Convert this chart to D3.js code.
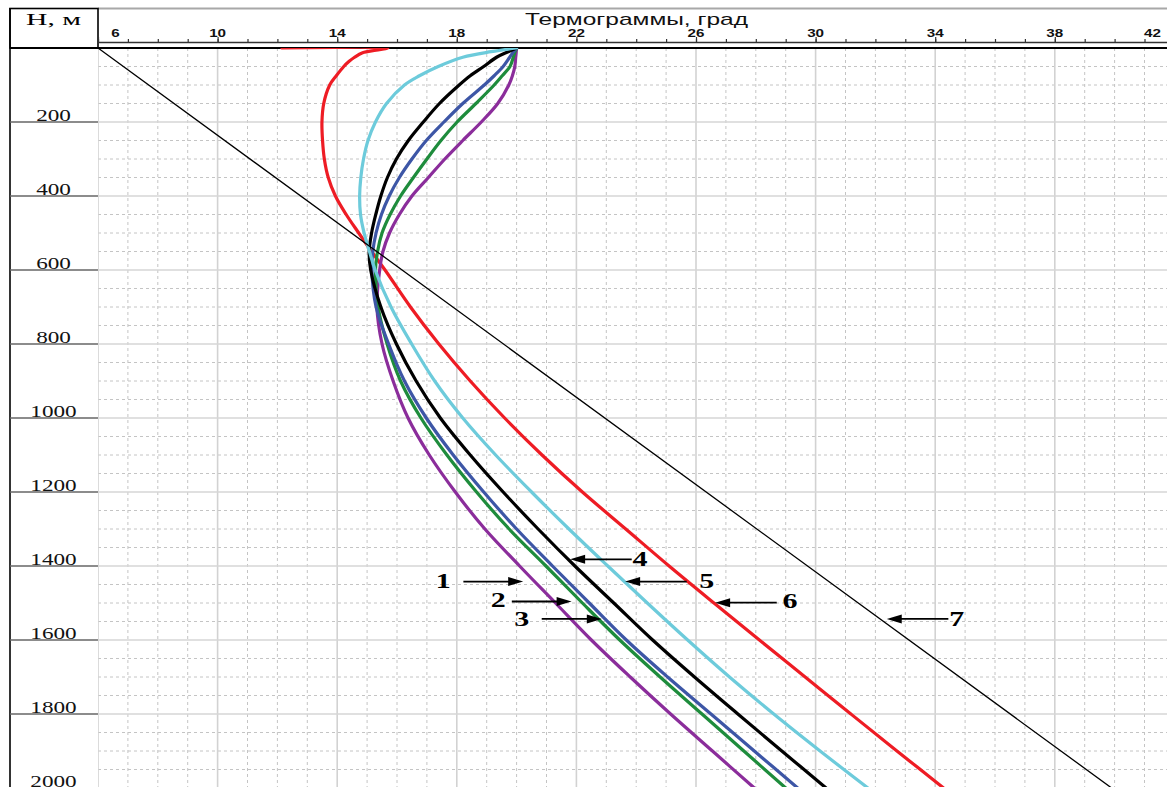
<!DOCTYPE html>
<html>
<head>
<meta charset="utf-8">
<script src="https://cdn.jsdelivr.net/npm/d3@7"></script>
<style>
  html, body { margin: 0; padding: 0; background: #fff; overflow: hidden; }
  svg { display: block; }
</style>
</head>
<body>
<svg id="chart"></svg>
<script>
// Depth stations of the thermograms, m
const depthM = [0, 10, 25, 50, 75, 100, 150, 200, 250, 300, 350, 400, 450, 500, 550, 600,
                700, 800, 900, 1000, 1100, 1200, 1300, 1400, 1500, 1600, 1700, 1800, 1900, 2000];

// Thermograms 1-5, °C at depthM
const thermo1 = [20.0, 19.99, 19.97, 19.94, 19.86, 19.74, 19.37, 18.82, 18.2, 17.6, 17.05, 16.5, 16.08, 15.75, 15.53, 15.42,
                 15.33, 15.5, 15.87, 16.37, 17.08, 17.95, 18.94, 20.1, 21.3, 22.5, 23.8, 25.15, 26.55, 27.95];
const thermo2 = [20.0, 19.95, 19.89, 19.78, 19.52, 19.25, 18.64, 18.01, 17.47, 17.0, 16.55, 16.12, 15.77, 15.5, 15.35, 15.28,
                 15.37, 15.67, 16.12, 16.8, 17.67, 18.66, 19.75, 20.98, 22.2, 23.45, 24.8, 26.2, 27.6, 29.0];
const thermo3 = [20.0, 19.9, 19.77, 19.55, 19.25, 18.92, 18.2, 17.57, 16.98, 16.5, 16.08, 15.74, 15.48, 15.3, 15.19, 15.16,
                 15.3, 15.72, 16.25, 16.98, 17.88, 18.9, 20.0, 21.2, 22.43, 23.67, 25.05, 26.5, 27.95, 29.4];
const thermo4 = [20.0, 19.72, 19.33, 18.9, 18.45, 18.08, 17.42, 16.88, 16.38, 15.98, 15.68, 15.46, 15.29, 15.15, 15.07, 15.12,
                 15.46, 15.98, 16.64, 17.45, 18.45, 19.55, 20.72, 21.95, 23.25, 24.55, 25.95, 27.4, 28.87, 30.35];
const thermo5 = [20.0, 19.15, 18.2, 17.38, 16.75, 16.25, 15.65, 15.28, 15.03, 14.88, 14.79, 14.75, 14.78, 14.9, 15.08, 15.27,
                 15.8, 16.49, 17.26, 18.2, 19.3, 20.5, 21.75, 23.05, 24.37, 25.72, 27.12, 28.6, 30.15, 31.75];

// Thermogram 6 starts with a surface segment, so it keeps its own depth list
const depthRed = [0, 0, 6, 13, 25, 36, 50, 75, 100, 150, 200, 250, 300, 350, 400, 450, 500, 550, 600,
                  700, 800, 900, 1000, 1100, 1200, 1300, 1400, 1500, 1600, 1700, 1800, 1900, 2000];
const thermo6 = [12.15, 15.69, 15.3, 14.85, 14.58, 14.4, 14.22, 13.97, 13.75, 13.55, 13.49, 13.51, 13.57, 13.7, 13.94, 14.3, 14.72, 15.15, 15.6,
                 16.45, 17.4, 18.45, 19.6, 20.85, 22.2, 23.65, 25.1, 26.6, 28.12, 29.65, 31.18, 32.72, 34.28];

// Line 7: geothermal gradient
const gradientT = [6, 39.9];
const gradientH = [0, 2000];

// Axis labels
const topTickLabels = [6, 10, 14, 18, 22, 26, 30, 34, 38, 42];
const depthTickLabels = [200, 400, 600, 800, 1000, 1200, 1400, 1600, 1800, 2000];

// Numbered call-outs: arrow tip, arrow tail and label, in (°C, m)
const calloutNames = ["1", "2", "3", "4", "5", "6", "7"];
const tipT   = [20.22, 21.84, 22.85, 21.79, 23.63, 26.64, 32.38];
const tipH   = [1442, 1496, 1543, 1382, 1442, 1499, 1543];
const tailT  = [18.22, 19.84, 20.84, 23.85, 25.69, 28.70, 34.44];
const labelT = [17.55, 19.39, 20.17, 24.13, 26.36, 29.14, 34.72];
const labelH = [1460, 1512, 1562, 1399, 1460, 1514, 1562];

const W = 1167, H = 787;
const svg = d3.select("#chart").attr("width", W).attr("height", H);
svg.append("rect").attr("width", W).attr("height", H).attr("fill", "#fff");

const x = d3.scaleLinear().domain([6, 42]).range([98, 98 + 36 * 29.9]);
const y = d3.scaleLinear().domain([0, 2000]).range([48, 788]);

svg.append("defs").append("clipPath").attr("id", "plotClip")
  .append("rect").attr("x", x(6)).attr("y", y(0)).attr("width", W - x(6)).attr("height", H - y(0));

// ---- grid ----
const grid = svg.append("g").attr("clip-path", "url(#plotClip)");
const minorT = d3.range(7, 42).filter(t => (t - 6) % 4 !== 0);
const majorT = d3.range(6, 42, 4);
const minorH = d3.range(50, 2001, 50).filter(h => h % 200 !== 0);
const majorH = d3.range(200, 2001, 200);

grid.selectAll(".vmin").data(minorT).join("line")
  .attr("x1", d => x(d)).attr("x2", d => x(d)).attr("y1", y(0)).attr("y2", H)
  .attr("stroke", "#c4c4c4").attr("stroke-width", 1).attr("stroke-dasharray", "3,3");
grid.selectAll(".hmin").data(minorH).join("line")
  .attr("x1", x(6)).attr("x2", W).attr("y1", d => y(d)).attr("y2", d => y(d))
  .attr("stroke", "#c4c4c4").attr("stroke-width", 1).attr("stroke-dasharray", "3,3");
grid.selectAll(".vmaj").data(majorT).join("line")
  .attr("x1", d => x(d)).attr("x2", d => x(d)).attr("y1", y(0)).attr("y2", H)
  .attr("stroke", "#d2d2d2").attr("stroke-width", 1.6);
grid.selectAll(".hmaj").data(majorH).join("line")
  .attr("x1", x(6)).attr("x2", W).attr("y1", d => y(d)).attr("y2", d => y(d))
  .attr("stroke", "#d6d6d6").attr("stroke-width", 1.6);

// ---- frame and header ----
svg.append("line").attr("x1", x(6)).attr("x2", W).attr("y1", 8.5).attr("y2", 8.5)
  .attr("stroke", "#a8a8a8").attr("stroke-width", 2);
svg.append("rect").attr("x", 10).attr("y", 8.5).attr("width", x(6) - 10).attr("height", y(0) - 8.5)
  .attr("fill", "none").attr("stroke", "#000").attr("stroke-width", 1.6);
svg.append("line").attr("x1", 10).attr("x2", 10).attr("y1", 8).attr("y2", H)
  .attr("stroke", "#000").attr("stroke-width", 1.6);
svg.append("text").attr("x", 26).attr("y", 25)
  .attr("textLength", 55).attr("lengthAdjust", "spacingAndGlyphs")
  .style("font-family", "'Liberation Serif', 'Times New Roman', serif").style("font-size", "17.5px")
  .text("H,  м");

// ---- top axis ----
const axMinor = svg.append("g").attr("transform", "translate(0,42)")
  .call(d3.axisTop(x).tickValues(d3.range(6, 42)).tickSize(3).tickSizeOuter(0).tickFormat(""));
axMinor.select(".domain").attr("stroke", "#333").attr("stroke-width", 1.6);
axMinor.selectAll(".tick line").attr("stroke", "#333").attr("stroke-width", 1.2);
const axMajor = svg.append("g").attr("transform", "translate(0,42)")
  .call(d3.axisTop(x).tickValues(majorT).tickSize(5).tickSizeOuter(0).tickFormat(""));
axMajor.select(".domain").remove();
axMajor.selectAll(".tick line").attr("stroke", "#333").attr("stroke-width", 1.2);

svg.append("g").selectAll("text").data(topTickLabels).join("text")
  .attr("transform", d => `translate(${Math.max(115.5, Math.min(1152.5, x(d)))},36.8) scale(1.45,1)`)
  .attr("text-anchor", "middle")
  .style("font-family", "'Liberation Sans', Arial, sans-serif").style("font-size", "10.5px")
  .style("font-weight", "bold")
  .attr("fill", "#111")
  .text(d => d);

svg.append("text").attr("x", 525).attr("y", 25)
  .attr("textLength", 223).attr("lengthAdjust", "spacingAndGlyphs")
  .style("font-family", "'Liberation Sans', Arial, sans-serif").style("font-size", "17px")
  .attr("fill", "#111")
  .text("Термограммы, град");

svg.append("line").attr("x1", 10).attr("x2", W).attr("y1", y(0)).attr("y2", y(0))
  .attr("stroke", "#000").attr("stroke-width", 2);

// ---- depth axis ----
const left = svg.append("g");
left.selectAll("line").data(depthTickLabels).join("line")
  .attr("x1", 10).attr("x2", x(6)).attr("y1", d => y(d)).attr("y2", d => y(d))
  .attr("stroke", "#666").attr("stroke-width", 1.5);
left.selectAll("text").data(depthTickLabels).join("text")
  .attr("transform", d => `translate(53.5,${y(d) - 1.5}) scale(1.45,1)`)
  .attr("text-anchor", "middle")
  .style("font-family", "'Liberation Serif', 'Times New Roman', serif").style("font-size", "16px")
  .attr("fill", "#111")
  .text(d => d);

// ---- thermograms ----
const series = [
  { T: thermo6, D: depthRed, color: "#ee1c24", w: 3.2 },
  { T: thermo1, D: depthM, color: "#8b2d9b", w: 3.2 },
  { T: thermo2, D: depthM, color: "#1e8c3c", w: 3.2 },
  { T: thermo3, D: depthM, color: "#3d56a6", w: 3.2 },
  { T: thermo4, D: depthM, color: "#000000", w: 3.2 },
  { T: thermo5, D: depthM, color: "#6dcbdb", w: 3.2 },
  { T: gradientT, D: gradientH, color: "#000000", w: 1.3 }
];
const line = d3.line().x(d => x(d[0])).y(d => y(d[1])).curve(d3.curveCatmullRom.alpha(0.5));
const plot = svg.append("g").attr("clip-path", "url(#plotClip)");
plot.selectAll("path").data(series).join("path")
  .attr("d", s => line(s.T.map((t, i) => [t, s.D[i]])))
  .attr("fill", "none").attr("stroke", s => s.color).attr("stroke-width", s => s.w)
  .attr("stroke-linejoin", "round").attr("stroke-linecap", "round");

// ---- call-outs ----
const call = svg.append("g");
calloutNames.forEach((name, i) => {
  const xt = x(tipT[i]), yt = y(tipH[i]), xs = x(tailT[i]);
  const dir = Math.sign(xt - xs);
  const head = 15, half = 4.5;
  call.append("line").attr("x1", xs).attr("x2", xt - dir * head + dir * 1).attr("y1", yt).attr("y2", yt)
    .attr("stroke", "#000").attr("stroke-width", 1.8);
  call.append("path")
    .attr("d", `M${xt},${yt} L${xt - dir * head},${yt - half} L${xt - dir * head},${yt + half} Z`)
    .attr("fill", "#000");
  call.append("text")
    .attr("transform", `translate(${x(labelT[i])},${y(labelH[i])}) scale(1.5,1)`)
    .attr("text-anchor", "middle")
    .style("font-family", "'Liberation Serif', 'Times New Roman', serif")
    .style("font-size", "20px").style("font-weight", "bold")
    .text(name);
});
</script>
</body>
</html>
